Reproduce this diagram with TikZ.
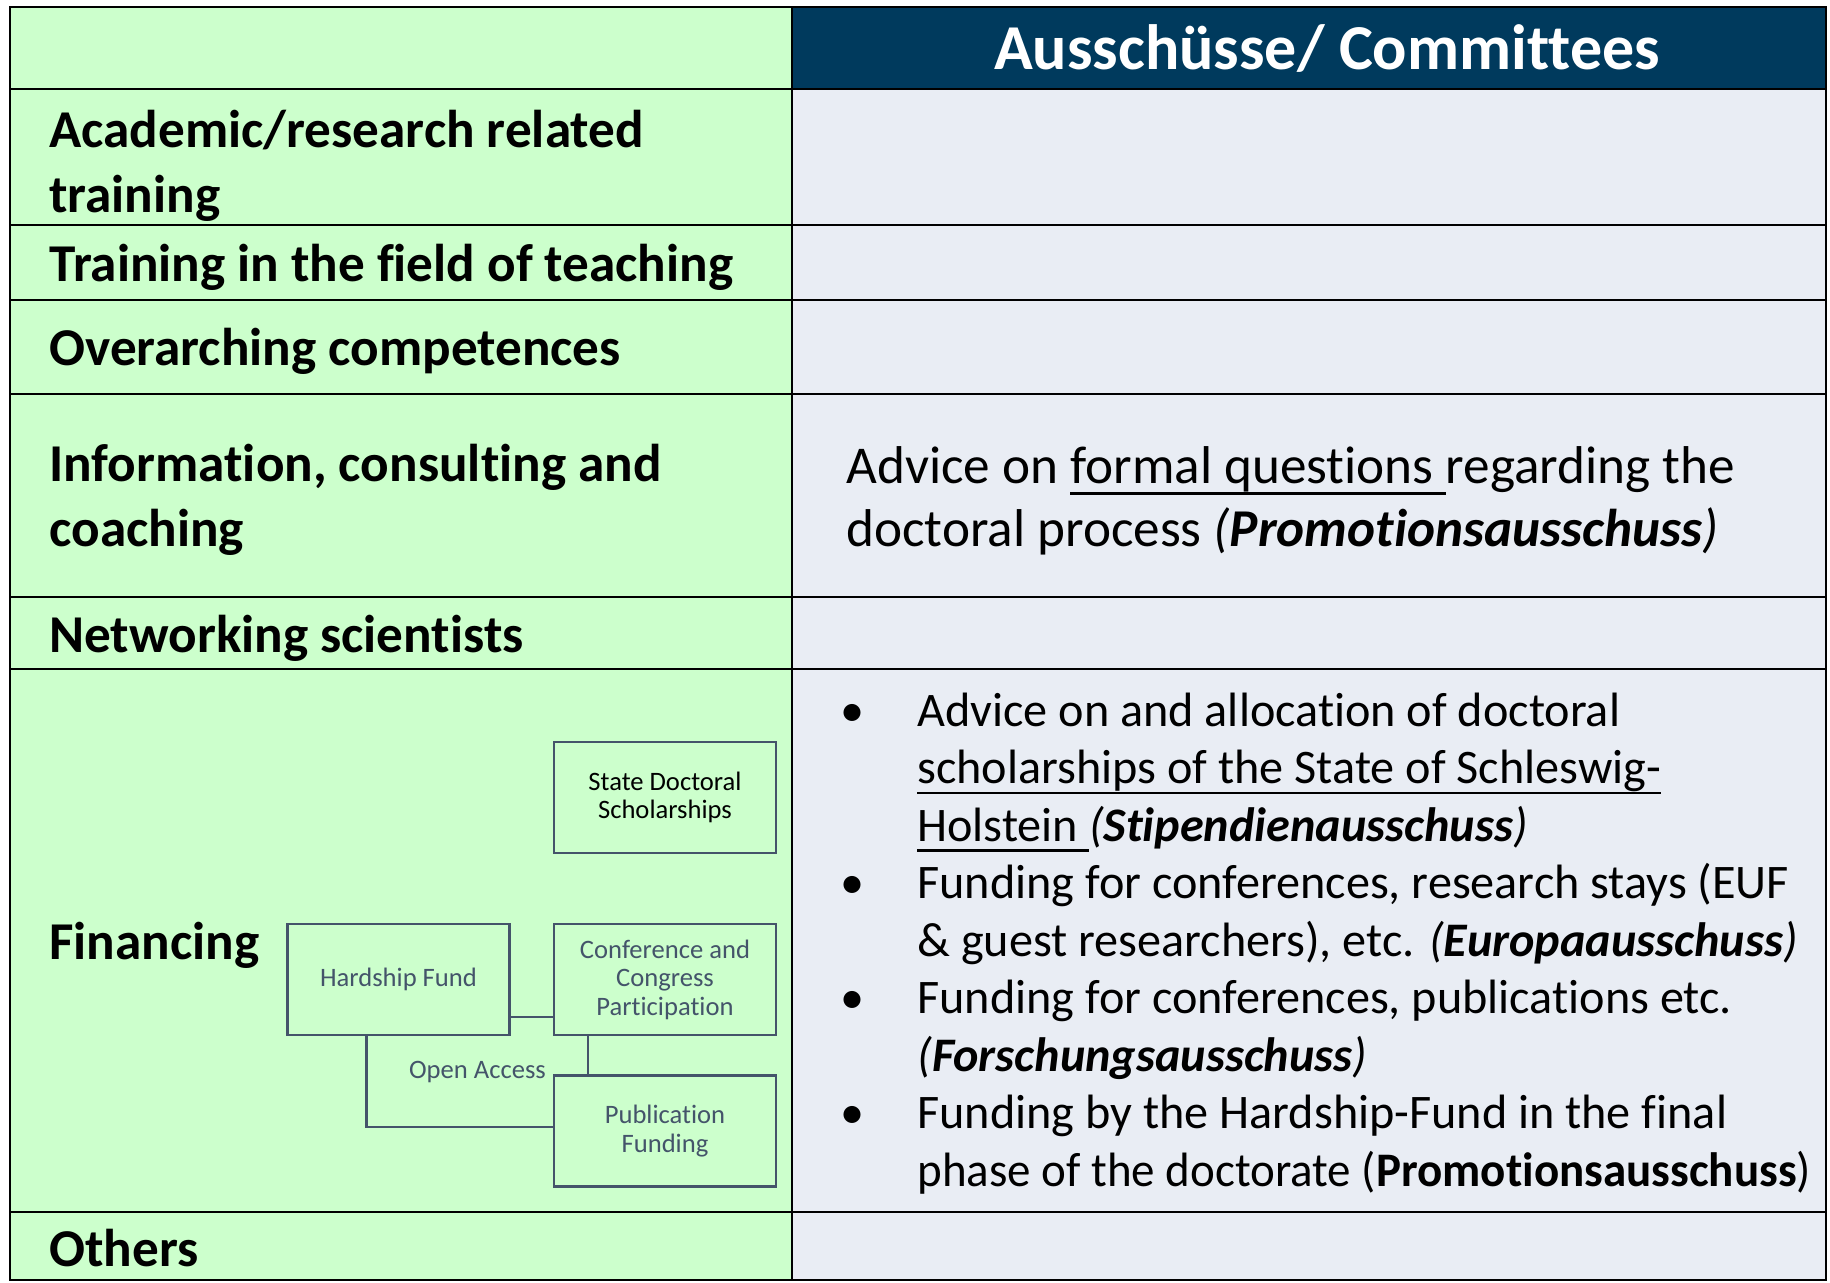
\documentclass[tikz,border=0pt]{standalone}
\usepackage{fontspec}
\setmainfont{Carlito}[Ligatures=CommonOff]
\usetikzlibrary{positioning}
\definecolor{rowgreen}{HTML}{CCFFCC}
\definecolor{cellblue}{HTML}{E9EDF4}
\definecolor{headblue}{HTML}{003A5D}
\definecolor{slate}{HTML}{44546A}
\newcommand{\ulin}[1]{\leavevmode\setbox0\hbox{#1}\rlap{\rule[-0.22em]{\wd0}{0.05em}}\box0}
\newcommand{\bull}{\llap{\makebox[38.5pt][l]{\textbullet}}}
\tikzset{
  lefttext/.style={anchor=base west, inner sep=0pt, align=left,
    font=\fontsize{26.6}{32.3}\selectfont\bfseries},
  righttext/.style={anchor=base west, inner sep=0pt, align=left,
    font=\fontsize{26.6}{31.5}\selectfont},
  bullettext/.style={anchor=base west, inner sep=0pt, align=left,
    font=\fontsize{24.1}{28.75}\selectfont},
  fundbox/.style={draw=slate, line width=1.2pt, minimum width=111pt,
    minimum height=55.5pt, inner sep=0pt, align=center, text=slate,
    font=\fontsize{13.3}{14.25}\selectfont},
  fundline/.style={draw=slate, line width=1.2pt}
}

\begin{document}
\begin{tikzpicture}[x=0.5pt,y=-0.5pt]
  \useasboundingbox (0,0) rectangle (1830,1282);
  % cells
  \fill[rowgreen] (10,7) rectangle (792,1280);
  \fill[cellblue] (792,89) rectangle (1826,1280);
  \fill[headblue] (792,7) rectangle (1826,89);
  \draw[line width=1.1pt] (10,7) rectangle (1826,1280);
  \draw[line width=1.1pt] (792,7) -- (792,1280);
  \draw[line width=1.1pt] (10,89) -- (1826,89);
  \draw[line width=1.1pt] (10,225) -- (1826,225);
  \draw[line width=1.1pt] (10,300) -- (1826,300);
  \draw[line width=1.1pt] (10,394) -- (1826,394);
  \draw[line width=1.1pt] (10,597) -- (1826,597);
  \draw[line width=1.1pt] (10,669) -- (1826,669);
  \draw[line width=1.1pt] (10,1212) -- (1826,1212);

  \node at (1327,69) [anchor=base, inner sep=0pt, text=white,
    font=\fontsize{32}{36}\selectfont\bfseries] (20) {Ausschüsse/ Committees};

  % left column (multi-line nodes sit on their last line)
  \node at (49,212) [lefttext] (11) {Academic/research related\\training};
  \node at (49,281) [lefttext] (12) {Training in the field of teaching};
  \node at (49,365.5) [lefttext] (13) {Overarching competences};
  \node at (49,546) [lefttext] (14) {Information, consulting and\\coaching};
  \node at (49,652) [lefttext] (15) {Networking scientists};
  \node at (49,959) [lefttext] (16) {Financing};
  \node at (49,1266) [lefttext] (17) {Others};

  % right column
  \node at (846,546) [righttext] (24) {Advice on \ulin{formal questions }regarding the\\
    doctoral process \textit{(\textbf{Promotionsausschuss})}};

  \node at (917,841) [bullettext] (261) {\bull Advice on and allocation of doctoral\\
    \ulin{scholarships of the State of Schleswig-}\\
    \ulin{Holstein }\textit{(\textbf{Stipendienausschuss})}};
  \node at (917,956) [bullettext] (262) {\bull Funding for conferences, research stays (EUF\\
    \& guest researchers), etc. \textit{(\textbf{Europaausschuss})}};
  \node at (917,1071) [bullettext] (263) {\bull Funding for conferences, publications etc.\\
    \textit{(\textbf{Forschungsausschuss})}};
  \node at (917,1186) [bullettext] (264) {\bull Funding by the Hardship-Fund in the final\\
    \scalebox{0.975}[1]{phase of the doctorate (\textbf{Promotionsausschuss})}};

  % financing boxes
  \node at (665,797.5) [fundbox, text=black] (31) {State Doctoral\\Scholarships};
  \node at (398.5,979.5) [fundbox] (32) {Hardship Fund};
  \node at (665,979.5) [fundbox] (33) {Conference and\\Congress\\Participation};
  \node at (665,1131) [fundbox] (34) {Publication\\Funding};
  \node at (477.5,1072) [text=slate, inner sep=0pt,
    font=\fontsize{13.3}{14.25}\selectfont] (35) {Open Access};

  \draw[fundline] ([yshift=-18.75pt]32.east) -- ([yshift=-18.75pt]33.west);
  \draw[fundline] ([xshift=-16pt]32.south) |- ([yshift=2pt]34.west);
  \draw[fundline] ([xshift=-38.5pt]33.south) -- ([xshift=-38.5pt]34.north);
\end{tikzpicture}
\end{document}
